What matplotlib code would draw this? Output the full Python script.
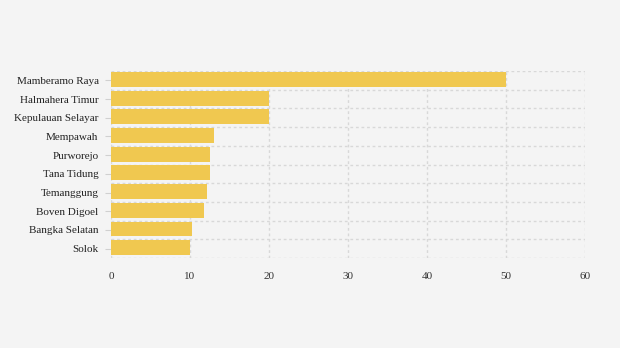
import matplotlib.pyplot as plt

regions = ['Mamberamo Raya', 'Halmahera Timur', 'Kepulauan Selayar', 'Mempawah',
           'Purworejo', 'Tana Tidung', 'Temanggung', 'Boven Digoel',
           'Bangka Selatan', 'Solok']
values = [50, 20, 20, 13, 12.5, 12.5, 12.2, 11.8, 10.2, 10]
x_ticks = [0, 10, 20, 30, 40, 50, 60]

plt.rcParams['font.family'] = ['Liberation Serif', 'DejaVu Serif']

fig = plt.figure(figsize=(6.2, 3.48), dpi=100, facecolor='#f4f4f4')
ax = fig.add_axes([111 / 620, 1 - 258 / 348, 474 / 620, 187 / 348])
ax.set_facecolor('#f4f4f4')

pos = list(range(len(regions)))
ax.barh([p - 0.05 for p in pos], values, height=0.8, color='#f0c850', zorder=3)

ax.set_xlim(0, 60)
ax.set_ylim(len(regions) - 0.5, -0.5)
ax.set_xticks(x_ticks)
ax.set_yticks(pos)
ax.set_yticklabels(regions)

# grid lines between bars and at x ticks
for y in [p - 0.5 for p in pos] + [len(regions) - 0.5]:
    ax.axhline(y, color='#d8d8d8', lw=1, ls=(0, (2, 2)), zorder=1)
for x in x_ticks:
    ax.axvline(x, color='#d8d8d8', lw=1, ls=(0, (2, 2)), zorder=1)

for s in ax.spines.values():
    s.set_visible(False)

ax.tick_params(axis='y', length=4, color='#d0d0d0', labelsize=8, labelcolor='#222222', pad=5)
ax.tick_params(axis='x', length=0, labelsize=8, labelcolor='#333333', pad=10)

fig.savefig('out.png', dpi=100, facecolor='#f4f4f4')
